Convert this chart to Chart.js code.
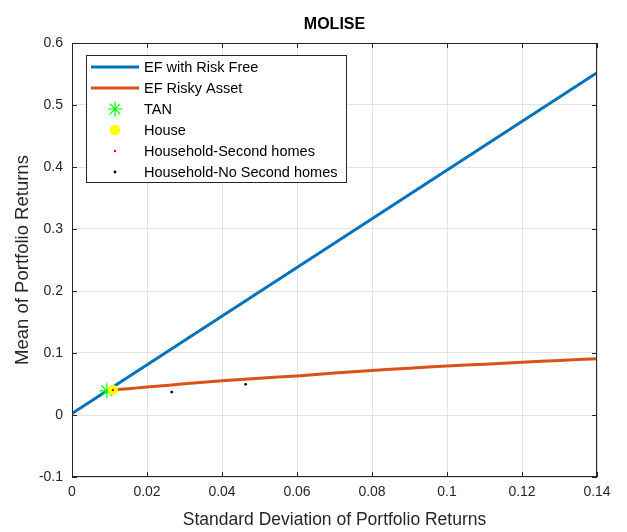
<!DOCTYPE html>
<html>
<head>
<meta charset="utf-8">
<script src="https://cdn.jsdelivr.net/npm/chart.js@4/dist/chart.umd.min.js"></script>
<style>
  html, body { margin: 0; background: #fff; }
  #wrap { width: 627px; height: 532px; }
</style>
</head>
<body>
<div id="wrap"><canvas id="chart"></canvas></div>
<script>
// --- data ---
const chartTitle = 'MOLISE';
const xTicks = [0, 0.02, 0.04, 0.06, 0.08, 0.1, 0.12, 0.14];
const yTicks = [-0.1, 0, 0.1, 0.2, 0.3, 0.4, 0.5, 0.6];

const cmlX = [0, 0.14];
const cmlY = [0.0025, 0.552];

const frontierX = [0.0109, 0.015, 0.02, 0.03, 0.04, 0.05, 0.06, 0.07, 0.08, 0.09, 0.10, 0.11, 0.12, 0.13, 0.14];
const frontierY = [0.0403, 0.0425, 0.0450, 0.0503, 0.0553, 0.0593, 0.0630, 0.0677, 0.0718, 0.0755, 0.0790, 0.0820, 0.0850, 0.0880, 0.0908];

const tanX = [0.0093];
const tanY = [0.039];
const houseX = [0.0109];
const houseY = [0.0403];
const secondX = [0.0109];
const secondY = [0.0403];
const noSecondX = [0.0266, 0.0463];
const noSecondY = [0.037, 0.0495];

const toPts = (xs, ys) => xs.map((x, i) => ({ x: x, y: ys[i] }));
const fmt = v => String(Number(v.toFixed(3)));

const FONT = '"Liberation Sans", Arial, sans-serif';
const INK = '#262626';

// axes box, inward ticks, title and a MATLAB style legend inside the axes
const boxLegend = {
    id: 'boxLegend',
    afterDraw(chart) {
        const ctx = chart.ctx;
        const area = chart.chartArea;
        ctx.save();

        ctx.strokeStyle = INK;
        ctx.lineWidth = 1;
        ctx.strokeRect(area.left + 0.5, area.top + 0.5, area.right - area.left - 1, area.bottom - area.top - 1);
        const xs = chart.scales.x, ys = chart.scales.y;
        ctx.beginPath();
        xTicks.forEach(t => {
            const px = Math.round(xs.getPixelForValue(t)) + 0.5;
            ctx.moveTo(px, area.bottom); ctx.lineTo(px, area.bottom - 5);
            ctx.moveTo(px, area.top); ctx.lineTo(px, area.top + 5);
        });
        yTicks.forEach(t => {
            const py = Math.round(ys.getPixelForValue(t)) + 0.5;
            ctx.moveTo(area.left, py); ctx.lineTo(area.left + 5, py);
            ctx.moveTo(area.right, py); ctx.lineTo(area.right - 5, py);
        });
        ctx.stroke();

        // title
        ctx.fillStyle = '#000';
        ctx.font = 'bold 16px ' + FONT;
        ctx.textAlign = 'center';
        ctx.textBaseline = 'middle';
        ctx.fillText(chartTitle, (area.left + area.right) / 2, 25);

        // legend box
        const bx = 86, by = 55, bw = 260, bh = 127;
        ctx.fillStyle = '#fff';
        ctx.fillRect(bx, by, bw, bh);
        ctx.strokeStyle = INK;
        ctx.strokeRect(bx + 0.5, by + 0.5, bw, bh);
        ctx.font = '14.5px ' + FONT;
        ctx.textAlign = 'left';
        chart.data.datasets.forEach((ds, i) => {
            const cy = by + 12 + i * 21;
            if (ds.showLine) {
                ctx.strokeStyle = ds.borderColor;
                ctx.lineWidth = ds.borderWidth;
                ctx.beginPath();
                ctx.moveTo(bx + 5, cy); ctx.lineTo(bx + 53, cy);
                ctx.stroke();
            } else {
                ctx.fillStyle = ds.pointBackgroundColor;
                ctx.strokeStyle = ds.pointBorderColor;
                ctx.lineWidth = ds.pointBorderWidth;
                Chart.helpers.drawPoint(ctx, {
                    pointStyle: ds.pointStyle,
                    radius: ds.pointRadius,
                    borderWidth: ds.pointBorderWidth
                }, bx + 29, cy);
            }
            ctx.fillStyle = '#000';
            ctx.fillText(ds.label, bx + 58, cy + 1);
        });
        ctx.restore();
    }
};

new Chart(document.getElementById('chart'), {
    type: 'scatter',
    data: {
        datasets: [
            {
                label: 'EF with Risk Free',
                data: toPts(cmlX, cmlY),
                showLine: true,
                borderColor: '#0072bd',
                borderWidth: 3,
                pointRadius: 0,
                order: 5
            },
            {
                label: 'EF Risky Asset',
                data: toPts(frontierX, frontierY),
                showLine: true,
                borderColor: '#d95319',
                borderWidth: 3,
                pointRadius: 0,
                tension: 0.3,
                order: 4
            },
            {
                label: 'TAN',
                data: toPts(tanX, tanY),
                pointStyle: 'star',
                pointRadius: 7.5,
                pointBorderWidth: 1.2,
                pointBorderColor: '#00ff00',
                pointBackgroundColor: '#00ff00',
                order: 3
            },
            {
                label: 'House',
                data: toPts(houseX, houseY),
                pointStyle: 'circle',
                pointRadius: 5.2,
                pointBorderWidth: 0,
                pointBorderColor: '#ffff00',
                pointBackgroundColor: '#ffff00',
                order: 2
            },
            {
                label: 'Household-Second homes',
                data: toPts(secondX, secondY),
                pointStyle: 'circle',
                pointRadius: 1.2,
                pointBorderWidth: 0,
                pointBorderColor: '#ff0000',
                pointBackgroundColor: '#ff0000',
                order: 1
            },
            {
                label: 'Household-No Second homes',
                data: toPts(noSecondX, noSecondY),
                pointStyle: 'circle',
                pointRadius: 1.4,
                pointBorderWidth: 0,
                pointBorderColor: '#000',
                pointBackgroundColor: '#000',
                order: 0
            }
        ]
    },
    options: {
        responsive: true,
        maintainAspectRatio: false,
        animation: false,
        layout: { padding: { top: 43, right: 30, left: 0, bottom: 0 } },
        plugins: {
            legend: { display: false },
            tooltip: { enabled: false }
        },
        scales: {
            x: {
                type: 'linear',
                min: 0,
                max: 0.14,
                afterBuildTicks: s => { s.ticks = xTicks.map(v => ({ value: v })); },
                afterFit: s => { s.height = 55; },
                grid: { color: '#e3e3e3', drawTicks: false },
                border: { display: false },
                ticks: {
                    padding: 7,
                    color: INK,
                    font: { family: FONT, size: 14 },
                    maxRotation: 0,
                    callback: v => fmt(v)
                },
                title: {
                    display: true,
                    text: 'Standard Deviation of Portfolio Returns',
                    color: INK,
                    font: { family: FONT, size: 17.5 },
                    padding: { top: 0, bottom: 1 }
                }
            },
            y: {
                type: 'linear',
                min: -0.1,
                max: 0.6,
                afterBuildTicks: s => { s.ticks = yTicks.map(v => ({ value: v })); },
                afterFit: s => { s.width = 72; },
                grid: { color: '#e3e3e3', drawTicks: false },
                border: { display: false },
                ticks: {
                    padding: 9,
                    color: INK,
                    font: { family: FONT, size: 14 },
                    callback: v => fmt(v)
                },
                title: {
                    display: true,
                    text: 'Mean of Portfolio Returns',
                    color: INK,
                    font: { family: FONT, size: 18.5 },
                    padding: { top: 12, bottom: 0 }
                }
            }
        }
    },
    plugins: [boxLegend]
});
</script>
</body>
</html>
